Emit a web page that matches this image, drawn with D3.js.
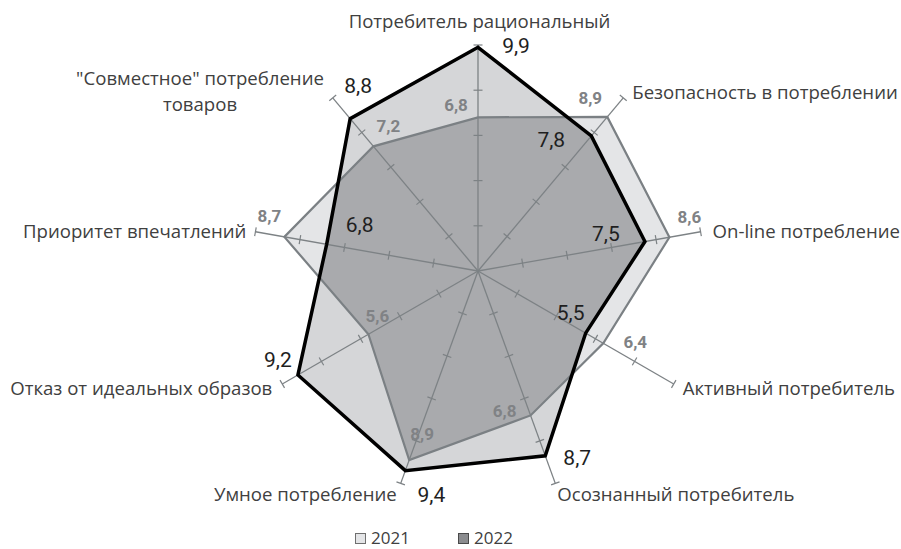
<!DOCTYPE html>
<html><head><meta charset="utf-8">
<script src="https://cdn.jsdelivr.net/npm/d3@7"></script>
<style>body{margin:0;background:#fff}svg{display:block}</style>
</head><body><svg id="c" width="901" height="549"></svg>
<script>
const categories = ["Потребитель рациональный","Безопасность в потреблении","On-line потребление","Активный потребитель","Осознанный потребитель","Умное потребление","Отказ от идеальных образов","Приоритет впечатлений","\"Совместное\" потребление товаров"];
const values2021 = [6.8, 8.9, 8.6, 6.4, 6.8, 8.9, 5.6, 8.7, 7.2];
const values2022 = [9.9, 7.8, 7.5, 5.5, 8.7, 9.4, 9.2, 6.8, 8.8];
const seriesNames = ["2021", "2022"];
const tickValues = [2, 4, 6, 8, 10];

// layout (not data)
const cx = 478, cy = 271, R = 226;
const lab2022Off = [[38,-2],[-40,3],[-39,-8],[-15,-21],[32,2],[26,24],[-20,-16],[33,-20],[8,-33]];
const lab2021Off = [[-22,-12],[-17,-19],[20,-20],[32,-1],[-26,-5],[13,-26],[9,-18],[-15,-21],[15,-20]];
const catPos = [
  {dx:1.5, dy:-24, anchor:"middle"},
  {dx:9, dy:-5, anchor:"start"},
  {dx:12, dy:0, anchor:"start"},
  {dx:9, dy:4, anchor:"start"},
  {dx:2, dy:11, anchor:"start"},
  {dx:-4, dy:11, anchor:"end"},
  {dx:-10, dy:4, anchor:"end"},
  {dx:-9, dy:0, anchor:"end"},
  {dx:0, dy:0, anchor:"middle"}
];

const svg = d3.select("#c");
const n = categories.length;
const r = d3.scaleLinear().domain([0, 10]).range([0, R]);
const ang = d3.scaleLinear().domain([0, n]).range([0, 2*Math.PI]);
const pt = (i, v) => [cx + r(v)*Math.sin(ang(i)), cy - r(v)*Math.cos(ang(i))];
const line = d3.line().curve(d3.curveLinearClosed);
const p21 = values2021.map((v,i)=>pt(i,v));
const p22 = values2022.map((v,i)=>pt(i,v));

const defs = svg.append("defs");
defs.append("clipPath").attr("id","clip21").append("path").attr("d", line(p21));

svg.append("path").attr("d", line(p21)).attr("fill", "#e4e5e7");
svg.append("path").attr("d", line(p22)).attr("fill", "#d5d6d8");
svg.append("path").attr("d", line(p22)).attr("fill", "#a9aaad").attr("clip-path","url(#clip21)");

// axes
const axisCol = "#7d8285";
for (let i = 0; i < n; i++) {
  const a = ang(i);
  const [ex, ey] = pt(i, 10);
  svg.append("line").attr("x1",cx).attr("y1",cy).attr("x2",ex).attr("y2",ey)
    .attr("stroke",axisCol).attr("stroke-width",1.3);
  const px = Math.cos(a), py = Math.sin(a);
  tickValues.forEach(t => {
    const [tx, ty] = pt(i, t);
    svg.append("line").attr("x1",tx-px*4.5).attr("y1",ty-py*4.5).attr("x2",tx+px*4.5).attr("y2",ty+py*4.5)
      .attr("stroke",axisCol).attr("stroke-width",1.2);
  });
}

svg.append("path").attr("d", line(p21)).attr("fill","none").attr("stroke","#7b8084").attr("stroke-width",2.2).attr("stroke-linejoin","miter");
svg.append("path").attr("d", line(p22)).attr("fill","none").attr("stroke","#000").attr("stroke-width",3.5).attr("stroke-linejoin","miter");

// category labels
const catFont = "'Open Sans', sans-serif";
const catSize = 18.6;
categories.forEach((c, i) => {
  const [ex, ey] = pt(i, 10);
  const cp = catPos[i];
  if (i === 8) {
    const t = svg.append("text").attr("font-family",catFont).attr("font-size",catSize).attr("fill","#404040")
      .attr("text-anchor","middle");
    t.append("tspan").attr("x",200).attr("y",78).attr("dy","0.35em").text("\"Совместное\" потребление");
    t.append("tspan").attr("x",200).attr("y",104).attr("dy","0.35em").text("товаров");
  } else {
    svg.append("text").attr("x", ex+cp.dx).attr("y", ey+cp.dy).attr("dy","0.35em")
      .attr("text-anchor", cp.anchor).attr("font-family",catFont).attr("font-size",catSize)
      .attr("fill","#404040").text(c);
  }
});

const fmt = v => String(v.toFixed(1)).replace(".", ",");
p22.forEach((p, i) => {
  svg.append("text").attr("x", p[0]+lab2022Off[i][0]).attr("y", p[1]+lab2022Off[i][1]).attr("dy","0.36em")
    .attr("text-anchor","middle").attr("font-family","Roboto, sans-serif").attr("font-size",21)
    .attr("fill","#1f1f1f").text(fmt(values2022[i]));
});
p21.forEach((p, i) => {
  svg.append("text").attr("x", p[0]+lab2021Off[i][0]).attr("y", p[1]+lab2021Off[i][1]).attr("dy","0.36em")
    .attr("text-anchor","middle").attr("font-family","Roboto, sans-serif").attr("font-weight","bold").attr("font-size",17)
    .attr("fill","#808285").text(fmt(values2021[i]));
});

// legend
const legColors = [["#e4e5e7","#6f6f6f"],["#8b8c8f","#4a4a4a"]];
const legX = [355, 458];
seriesNames.forEach((s, k) => {
  svg.append("rect").attr("x",legX[k]+0.5).attr("y",533.5).attr("width",10).attr("height",10)
    .attr("fill",legColors[k][0]).attr("stroke",legColors[k][1]).attr("stroke-width",1);
  svg.append("text").attr("x",legX[k]+16).attr("y",538.5).attr("dy","0.35em")
    .attr("font-family",catFont).attr("font-size",17).attr("fill","#404040").text(s);
});
</script></body></html>
